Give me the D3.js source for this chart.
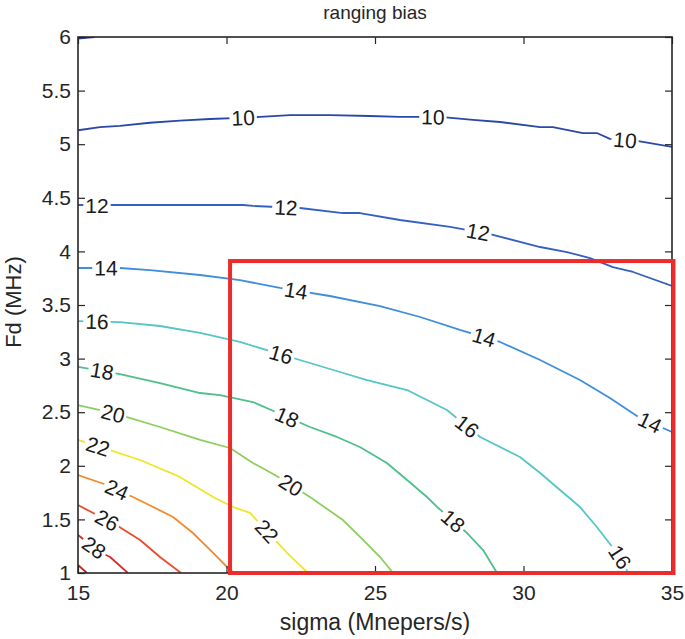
<!DOCTYPE html>
<html>
<head>
<meta charset="utf-8">
<script src="https://cdn.jsdelivr.net/npm/d3@7"></script>
<style>
  body { margin: 0; background: #fff; }
  text { font-family: "Liberation Sans", Arial, sans-serif; }
</style>
</head>
<body>
<svg id="chart"></svg>
<script>
// axis ticks
const xTicks = [15, 20, 25, 30, 35];
const yTicks = [1, 1.5, 2, 2.5, 3, 3.5, 4, 4.5, 5, 5.5, 6];
const yTickLabels = ['1', '1.5', '2', '2.5', '3', '3.5', '4', '4.5', '5', '5.5', '6'];

// contour levels and traced iso-lines, [sigma, Fd]
const levels = [8, 10, 12, 14, 16, 18, 20, 22, 24, 26, 28, 30];

const c8 = [[15, 5.985], [15.55, 6.0]];
const c10 = [[15, 5.13], [15.74, 5.16], [16.41, 5.17], [17.42, 5.2], [18.43, 5.22], [19.44, 5.235],
  [20.45, 5.245], [21.13, 5.254], [22.14, 5.272], [23.48, 5.272], [24.83, 5.263], [25.84, 5.254],
  [27.19, 5.254], [28.3, 5.226], [29.21, 5.207], [30.56, 5.16], [30.99, 5.16], [32.0, 5.104],
  [32.47, 5.104], [32.91, 5.05], [33.82, 5.03], [35, 4.974]];
const c12 = [[15, 4.433], [16.75, 4.433], [19.11, 4.433], [20.56, 4.433], [20.89, 4.424], [22.47, 4.405],
  [23.92, 4.358], [24.49, 4.358], [25.84, 4.293], [27.53, 4.228], [28.87, 4.162], [30.56, 4.041],
  [31.46, 3.994], [32.24, 3.938], [33.01, 3.854], [33.69, 3.808], [35, 3.677]];
const c14 = [[15, 3.845], [16.41, 3.845], [17.42, 3.826], [19.11, 3.78], [20.45, 3.733], [21.8, 3.659],
  [23.48, 3.584], [25.17, 3.49], [26.52, 3.388], [27.86, 3.267], [29.21, 3.155], [30.56, 2.987],
  [31.9, 2.8], [32.91, 2.632], [33.92, 2.446], [35, 2.315]];
const c16 = [[15, 3.35], [16.41, 3.341], [17.76, 3.304], [19.11, 3.239], [20.45, 3.155], [22.47, 2.987],
  [23.82, 2.875], [24.73, 2.8], [26.08, 2.707], [27.42, 2.52], [28.54, 2.269], [29.88, 2.082],
  [30.56, 1.933], [31.9, 1.616], [32.47, 1.429], [33.25, 1.149], [33.52, 1.0]];
const c18 = [[15, 2.922], [16.41, 2.856], [17.76, 2.772], [19.11, 2.679], [19.78, 2.66], [20.89, 2.595],
  [22.81, 2.362], [23.72, 2.269], [24.49, 2.175], [25.4, 2.026], [26.08, 1.867], [26.75, 1.709],
  [27.09, 1.616], [28.1, 1.373], [28.64, 1.214], [29.11, 1.0]];
const c20 = [[15, 2.567], [15.74, 2.52], [16.65, 2.455], [17.76, 2.362], [19.11, 2.241], [20.12, 2.166],
  [20.89, 2.026], [21.63, 1.914], [22.81, 1.709], [23.92, 1.494], [24.6, 1.308], [25.17, 1.149],
  [25.61, 1.0]];
const c22 = [[15, 2.241], [16.08, 2.147], [17.09, 2.054], [18.43, 1.896], [19.55, 1.709], [20.22, 1.616],
  [20.79, 1.56], [21.23, 1.429], [22.04, 1.187], [22.74, 1.0]];
const c24 = [[15, 1.914], [15.98, 1.821], [16.85, 1.709], [17.53, 1.616], [18.2, 1.522], [18.87, 1.373],
  [19.55, 1.187], [20.12, 1.028], [20.29, 1.0]];
const c26 = [[15, 1.634], [15.64, 1.541], [16.18, 1.466], [17.09, 1.308], [17.76, 1.149], [18.47, 1.0]];
const c28 = [[15, 1.354], [15.74, 1.196], [16.08, 1.149], [16.68, 1.0]];
const c30 = [[15, 1.075], [15.3, 1.0]];

// sigma positions of the inline labels on each contour
const labels8 = [];
const labels10 = [20.56, 26.95, 33.42];
const labels12 = [15.64, 22.0, 28.47];
const labels14 = [15.94, 22.34, 28.67, 34.26];
const labels16 = [15.64, 21.84, 28.1, 33.25];
const labels18 = [15.81, 22.04, 27.63];
const labels20 = [16.18, 22.17];
const labels22 = [15.67, 21.36];
const labels24 = [16.31];
const labels26 = [15.98];
const labels28 = [15.54];
const labels30 = [];

// highlighted region [sigma], [Fd]
const boxSigma = [20.12, 35.05];
const boxFd = [1.0, 3.91];

const contours = [
  {level: 8, pts: c8, labels: labels8},
  {level: 10, pts: c10, labels: labels10},
  {level: 12, pts: c12, labels: labels12},
  {level: 14, pts: c14, labels: labels14},
  {level: 16, pts: c16, labels: labels16},
  {level: 18, pts: c18, labels: labels18},
  {level: 20, pts: c20, labels: labels20},
  {level: 22, pts: c22, labels: labels22},
  {level: 24, pts: c24, labels: labels24},
  {level: 26, pts: c26, labels: labels26},
  {level: 28, pts: c28, labels: labels28},
  {level: 30, pts: c30, labels: labels30}
];

const color = d3.scaleOrdinal()
  .domain(levels)
  .range(['#2a3e9e', '#2b48a9', '#3560c0', '#3f8edb', '#55c6c4', '#4fbf8c',
          '#8ccf5e', '#f1e52b', '#f28b2b', '#ec4b2b', '#dd2a2a', '#c42424']);

const svgSize = {width: 685, height: 639};
const margin = {top: 37, left: 78};
const width = 594, height = 536;
const axisColor = '#262626';
const font = 'Liberation Sans, Arial, sans-serif';

const svg = d3.select('#chart')
  .attr('width', svgSize.width)
  .attr('height', svgSize.height);

const x = d3.scaleLinear().domain([15, 35]).range([0, width]);
const y = d3.scaleLinear().domain([1, 6]).range([height, 0]);

svg.append('defs').append('clipPath').attr('id', 'plot-clip')
  .append('rect').attr('width', width).attr('height', height);

const g = svg.append('g').attr('transform', `translate(${margin.left},${margin.top})`);

const line = d3.line().x(d => x(d[0])).y(d => y(d[1]));

const plot = g.append('g').attr('clip-path', 'url(#plot-clip)');

plot.selectAll('.contour')
  .data(contours)
  .enter()
  .append('path')
  .attr('class', 'contour')
  .attr('d', d => line(d.pts))
  .attr('fill', 'none')
  .attr('stroke', d => color(d.level))
  .attr('stroke-width', 1.8)
  .attr('stroke-linejoin', 'round');

// Fd on a contour at given sigma (linear along the traced polyline)
function fdAt(pts, s) {
  const s0 = Math.max(pts[0][0], Math.min(pts[pts.length - 1][0], s));
  for (let i = 0; i < pts.length - 1; i++) {
    const a = pts[i], b = pts[i + 1];
    if (s0 >= a[0] && s0 <= b[0]) {
      const t = b[0] === a[0] ? 0 : (s0 - a[0]) / (b[0] - a[0]);
      return [s0, a[1] + t * (b[1] - a[1])];
    }
  }
  return pts[pts.length - 1];
}

const labelData = [];
contours.forEach(c => c.labels.forEach(s => {
  const p = fdAt(c.pts, s);
  const p0 = fdAt(c.pts, s - 0.5), p1 = fdAt(c.pts, s + 0.5);
  const ang = Math.atan2(y(p1[1]) - y(p0[1]), x(p1[0]) - x(p0[0])) * 180 / Math.PI;
  labelData.push({level: c.level, px: x(p[0]), py: y(p[1]), ang});
}));

const lab = plot.selectAll('.clabel')
  .data(labelData)
  .enter()
  .append('g')
  .attr('class', 'clabel')
  .attr('transform', d => `translate(${d.px},${d.py}) rotate(${d.ang})`);

lab.append('text')
  .text(d => d.level)
  .attr('text-anchor', 'middle')
  .attr('dy', '0.36em')
  .attr('font-size', 21)
  .attr('font-family', font)
  .attr('fill', '#1a1a1a');

lab.each(function () {
  const grp = d3.select(this);
  const bb = grp.select('text').node().getBBox();
  grp.insert('rect', 'text')
    .attr('x', bb.x - 2)
    .attr('y', bb.y + 3)
    .attr('width', bb.width + 4)
    .attr('height', bb.height - 6)
    .attr('fill', '#fff');
});

function styleAxis(sel) {
  sel.select('.domain').remove();
  sel.selectAll('line').attr('stroke', axisColor).attr('stroke-width', 1.2);
  sel.selectAll('text')
    .attr('fill', axisColor)
    .attr('font-size', 21)
    .attr('font-family', font);
}

g.append('g')
  .attr('transform', `translate(0,${height})`)
  .call(d3.axisBottom(x).tickValues(xTicks).tickSizeInner(-7).tickSizeOuter(0).tickPadding(12))
  .call(styleAxis);

g.append('g')
  .call(d3.axisTop(x).tickValues(xTicks).tickFormat(() => '').tickSizeInner(-7).tickSizeOuter(0))
  .call(styleAxis);

g.append('g')
  .call(d3.axisLeft(y).tickValues(yTicks).tickFormat((d, i) => yTickLabels[i])
    .tickSizeInner(-7).tickSizeOuter(0).tickPadding(7))
  .call(styleAxis);

g.append('g')
  .attr('transform', `translate(${width},0)`)
  .call(d3.axisRight(y).tickValues(yTicks).tickFormat(() => '').tickSizeInner(-7).tickSizeOuter(0))
  .call(styleAxis);

g.append('rect')
  .attr('width', width)
  .attr('height', height)
  .attr('fill', 'none')
  .attr('stroke', axisColor)
  .attr('stroke-width', 1.6);

// highlighted region
g.append('rect')
  .attr('x', x(boxSigma[0]))
  .attr('y', y(boxFd[1]))
  .attr('width', x(boxSigma[1]) - x(boxSigma[0]))
  .attr('height', y(boxFd[0]) - y(boxFd[1]))
  .attr('fill', 'none')
  .attr('stroke', '#ec2b2b')
  .attr('stroke-width', 4);

svg.append('text')
  .attr('x', margin.left + width / 2)
  .attr('y', 19)
  .attr('text-anchor', 'middle')
  .attr('font-size', 19)
  .attr('font-family', font)
  .attr('fill', axisColor)
  .text('ranging bias');

svg.append('text')
  .attr('x', margin.left + width / 2)
  .attr('y', 630)
  .attr('text-anchor', 'middle')
  .attr('font-size', 23)
  .attr('font-family', font)
  .attr('fill', axisColor)
  .text('sigma (Mnepers/s)');

svg.append('text')
  .attr('transform', `translate(21,${margin.top + height / 2 - 3}) rotate(-90)`)
  .attr('text-anchor', 'middle')
  .attr('font-size', 22)
  .attr('font-family', font)
  .attr('fill', axisColor)
  .text('Fd (MHz)');
</script>
</body>
</html>
